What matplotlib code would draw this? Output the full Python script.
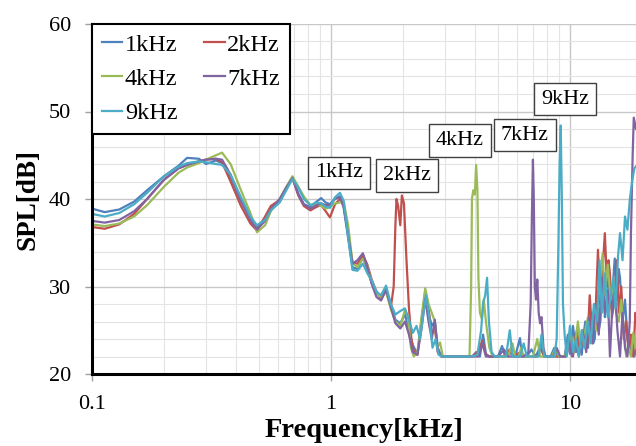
import matplotlib
matplotlib.use("Agg")
import matplotlib.pyplot as plt
import numpy as np
from matplotlib.ticker import FixedLocator, NullFormatter, MultipleLocator

plt.rcParams['font.family'] = ['Liberation Serif', 'DejaVu Serif']

# shared low-frequency grid [kHz]
freq_low = [0.100, 0.113, 0.130, 0.150, 0.170, 0.200, 0.230, 0.250, 0.280, 0.300,
            0.330, 0.350, 0.380, 0.420, 0.460, 0.490, 0.530, 0.560, 0.610, 0.650,
            0.690, 0.730, 0.770, 0.820, 0.870, 0.910, 0.950, 0.990, 1.040, 1.090,
            1.130, 1.180, 1.230, 1.290, 1.360, 1.420, 1.480, 1.550, 1.620, 1.700,
            1.780]

spl_low_1k = [38.9, 38.5, 38.8, 39.7, 41.0, 42.6, 43.8, 44.7, 44.6, 44.0,
              44.4, 44.1, 42.5, 39.8, 37.7, 36.8, 37.8, 39.0, 39.8, 41.2,
              42.5, 40.6, 39.4, 39.1, 39.7, 40.1, 39.6, 39.4, 40.1, 40.3,
              39.0, 35.5, 32.2, 32.0, 33.3, 32.0, 30.4, 29.4, 28.8, 29.8,
              28.0]
spl_low_2k = [36.8, 36.6, 37.1, 38.3, 40.0, 42.2, 43.5, 43.9, 44.3, 44.5,
              44.6, 44.2, 42.0, 39.2, 37.2, 36.4, 38.0, 39.2, 39.9, 41.3,
              42.4, 40.4, 39.2, 38.7, 39.1, 39.3, 38.6, 37.9, 39.4, 40.0,
              39.3, 36.0, 32.8, 32.6, 33.6, 32.5, 30.8, 29.4, 28.6, 29.6,
              27.6]
spl_low_4k = [37.1, 36.9, 37.2, 38.0, 39.3, 41.4, 43.0, 43.6, 44.1, 44.5,
              45.0, 45.3, 44.0, 41.0, 38.4, 36.2, 37.0, 38.6, 40.0, 41.4,
              42.6, 41.4, 40.3, 39.3, 39.4, 39.2, 38.9, 39.1, 39.5, 39.6,
              39.7, 37.0, 32.7, 32.2, 33.2, 32.3, 30.6, 29.2, 28.8, 29.4,
              27.4]
spl_low_7k = [37.5, 37.3, 37.6, 38.6, 40.0, 42.2, 43.5, 43.9, 44.3, 44.5,
              44.6, 44.5, 42.8, 39.8, 37.6, 36.5, 37.5, 38.8, 40.0, 41.3,
              42.4, 40.5, 39.4, 38.9, 39.3, 39.5, 39.3, 39.3, 40.0, 40.2,
              39.2, 35.9, 32.6, 33.0, 33.8, 32.2, 30.3, 28.8, 28.4, 29.6,
              27.7]
spl_low_9k = [38.3, 38.0, 38.4, 39.4, 40.7, 42.6, 43.7, 44.1, 44.3, 44.2,
              44.0, 43.9, 42.8, 40.2, 38.0, 37.0, 37.6, 38.7, 39.6, 41.0,
              42.3, 41.3, 40.0, 39.3, 39.6, 39.5, 39.1, 39.0, 40.2, 40.7,
              39.8, 35.7, 31.9, 31.8, 32.6, 31.5, 30.7, 29.4, 29.0, 30.1,
              28.0]

# high-frequency tails, read per series
f_tail_1k = [1.86, 1.95, 2.04, 2.12, 2.20, 2.30, 2.40, 2.48, 2.56, 2.64, 2.72, 2.80, 2.90,
             3.0, 3.9, 4.05, 4.2, 4.33, 4.45, 4.6, 5.0, 5.2, 5.35, 5.6, 5.9, 6.18, 6.3,
             6.6, 6.9, 7.2, 7.6, 7.8, 8.3, 8.6, 8.9, 9.5, 9.8, 10.0, 10.15, 10.3, 10.6, 10.9,
             11.2, 11.4, 11.6, 11.9, 12.1, 12.3, 12.5, 12.7, 13.0, 13.2, 13.4, 13.8, 14.0,
             14.2, 14.6, 15.0, 15.2, 15.4, 15.8, 16.0, 16.2, 16.6, 17.0, 17.4, 17.8, 18.2,
             18.6, 19.0]
v_tail_1k = [26.2, 25.8, 26.8, 25.0, 23.3, 22.3, 26.5, 29.4, 27.0, 25.5, 26.0, 23.0, 22.0,
             22.0, 22.0, 22.5, 22.0, 24.5, 22.3, 22.0, 22.0, 23.2, 22.0, 22.4, 22.0, 24.1, 22.0,
             22.0, 22.8, 22.0, 23.5, 22.0, 22.0, 23.0, 22.0, 22.0, 24.5, 22.3, 24.0, 25.5, 22.5, 24.0,
             22.2, 24.5, 26.0, 23.0, 25.5, 27.0, 23.5, 24.0, 29.5, 25.0, 26.0, 31.5, 26.5,
             28.0, 30.5, 27.0, 31.0, 33.2, 29.0, 32.0, 31.0, 26.0, 28.5, 24.0, 22.5, 23.5,
             22.0, 23.0]

f_tail_2k = [1.83, 1.86, 1.88, 1.91, 1.95, 1.98, 2.02, 2.07, 2.12, 2.17, 2.22, 2.30, 2.40,
             2.48, 2.56, 2.64, 2.72, 2.80, 2.90, 3.9, 4.1, 4.3, 4.45, 4.6, 5.3, 5.6, 5.8,
             6.2, 6.5, 7.3, 7.5, 7.8, 9.6, 10.0, 10.3, 10.5, 10.7, 11.0, 11.2, 11.4, 11.8,
             12.1, 12.4, 12.6, 12.8, 13.1, 13.4, 13.7, 14.0, 14.3, 14.5, 14.7, 15.0, 15.4,
             15.7, 16.0, 16.4, 16.8, 17.2, 17.6, 18.0, 18.4, 18.8, 19.0]
v_tail_2k = [30.0, 37.0, 40.0, 39.2, 37.0, 40.4, 39.5, 33.0, 27.5, 24.0, 22.6, 22.2, 26.0,
             29.3, 27.5, 24.5, 25.2, 22.5, 22.0, 22.0, 22.5, 23.8, 22.2, 22.0, 22.0, 22.8, 22.0,
             22.5, 22.0, 22.0, 23.0, 22.0, 22.0, 23.5, 22.0, 24.0, 25.0, 22.5, 23.5, 24.5, 23.0,
             29.0, 24.5, 26.0, 27.0, 34.2, 28.0, 32.0, 36.1, 30.0, 33.0, 31.5, 26.5, 29.0,
             33.0, 27.0, 30.0, 24.0, 26.0, 22.5, 24.5, 22.0, 27.0, 26.0]

f_tail_4k = [1.86, 1.95, 2.04, 2.10, 2.16, 2.22, 2.30, 2.40, 2.48, 2.56, 2.64, 2.72, 2.78,
             2.86, 2.94, 3.8, 3.86, 3.89, 3.94, 4.00, 4.05, 4.10, 4.14, 4.20, 4.28, 4.36,
             4.45, 4.6, 4.75, 5.5, 5.75, 5.9, 6.1, 6.25, 6.4, 7.0, 7.3, 7.5, 8.4, 8.7, 9.0,
             9.5, 9.8, 10.1, 10.4, 10.8, 11.1, 11.3, 11.5, 11.9, 12.2, 12.6, 12.9, 13.1, 13.3,
             13.7, 14.0, 14.4, 14.8, 15.2, 15.6, 16.0, 16.4, 16.8, 17.2, 17.6, 18.0, 18.4,
             18.8, 19.0]
v_tail_4k = [26.0, 25.5, 27.3, 26.5, 23.0, 22.0, 22.5, 26.8, 29.8, 28.0, 27.0, 26.0, 23.0,
             23.6, 22.0, 22.0, 30.0, 40.0, 41.0, 40.5, 43.9, 41.0, 31.0, 27.0, 26.3, 28.5,
             26.0, 23.0, 22.0, 22.0, 23.5, 22.0, 22.0, 23.0, 22.0, 22.0, 24.0, 22.0, 22.0, 23.0, 22.0,
             22.0, 23.0, 24.5, 22.5, 26.0, 23.0, 25.0, 24.5, 26.5, 24.0, 27.0, 25.0, 28.0, 30.0,
             33.8, 29.0, 32.5, 28.5, 30.5, 27.0, 26.0, 28.5, 25.0, 22.0, 23.0, 22.0, 24.7,
             23.0, 24.5]

f_tail_7k = [1.86, 1.95, 2.04, 2.12, 2.20, 2.30, 2.40, 2.48, 2.56, 2.64, 2.72, 2.80, 2.90,
             3.9, 4.15, 4.3, 4.45, 5.0, 5.3, 5.5, 6.4, 6.7, 6.85, 6.93, 7.0, 7.06, 7.13,
             7.21, 7.3, 7.4, 7.5, 7.6, 7.75, 7.9, 8.5, 8.8, 9.1, 9.6, 9.9, 10.2, 10.6, 10.9,
             11.3, 11.7, 12.0, 12.4, 12.8, 13.2, 13.6, 14.0, 14.4, 14.7, 15.0, 15.4, 15.8,
             16.2, 16.6, 17.0, 17.4, 17.8, 18.0, 18.3, 18.5, 18.9]
v_tail_7k = [25.8, 25.2, 26.0, 24.5, 22.5, 22.2, 25.5, 28.6, 26.0, 24.0, 26.2, 22.5, 22.0,
             22.0, 22.0, 23.5, 22.0, 22.0, 22.8, 22.0, 22.0, 22.5, 28.0, 38.0, 44.5, 40.0, 30.0,
             28.5, 30.8, 27.0, 25.8, 26.5, 23.0, 22.0, 22.0, 23.0, 22.0, 22.0, 24.0, 22.0, 23.5, 22.0,
             25.0, 22.5, 26.5, 23.5, 28.0, 24.5, 31.0, 27.0, 29.5, 22.0, 27.0, 30.0, 25.0,
             22.0, 27.0, 23.0, 22.0, 26.0, 36.0, 45.0, 49.3, 48.0]

f_tail_9k = [1.86, 1.95, 2.04, 2.12, 2.20, 2.28, 2.36, 2.44, 2.50, 2.58, 2.66, 2.74, 2.82,
             2.92, 3.9, 4.1, 4.25, 4.33, 4.42, 4.50, 4.58, 4.7, 4.85, 5.4, 5.6, 5.75, 6.2,
             6.4, 6.6, 7.4, 7.6, 7.8, 8.6, 8.8, 8.95, 9.05, 9.15, 9.25, 9.35, 9.5, 9.7, 10.0,
             10.3, 10.6, 10.9, 11.2, 11.5, 11.7, 11.9, 12.2, 12.6, 13.0, 13.3, 13.6, 14.0,
             14.4, 14.8, 15.2, 15.5, 15.9, 16.2, 16.6, 17.0, 17.4, 17.8, 18.2, 18.6, 19.0]
v_tail_9k = [26.8, 27.2, 27.5, 26.2, 24.7, 25.5, 24.0, 27.0, 29.0, 26.5, 23.0, 24.0, 22.2,
             22.0, 22.0, 22.2, 25.0, 28.1, 29.0, 31.0, 26.0, 22.5, 22.0, 22.0, 25.0, 22.0, 22.0,
             23.5, 22.0, 22.0, 24.5, 22.0, 22.0, 24.0, 35.0, 44.0, 48.4, 40.0, 28.0, 24.5, 22.0, 25.5,
             22.5, 24.0, 22.0, 25.0, 23.0, 24.5, 26.0, 23.5, 28.0, 26.0, 33.0, 27.0, 31.5,
             26.5, 29.0, 31.0, 27.5, 33.5, 36.1, 33.0, 38.0, 36.5, 39.9, 42.0, 43.5, 43.8]

labels = ['1kHz', '2kHz', '4kHz', '7kHz', '9kHz']
colors = ['#4F81BD', '#C0504D', '#9BBB59', '#8064A2', '#4BACC6']

series = [
    (freq_low + f_tail_1k, spl_low_1k + v_tail_1k),
    (freq_low + f_tail_2k, spl_low_2k + v_tail_2k),
    (freq_low + f_tail_4k, spl_low_4k + v_tail_4k),
    (freq_low + f_tail_7k, spl_low_7k + v_tail_7k),
    (freq_low + f_tail_9k, spl_low_9k + v_tail_9k),
]

# annotation labels and their positions
ann_text = ['1kHz', '2kHz', '4kHz', '7kHz', '9kHz']
ann_x = [1.08, 2.08, 3.47, 6.48, 9.55]
ann_y = [43.0, 42.7, 46.7, 47.3, 51.4]

fig = plt.figure(figsize=(6.36, 4.46), dpi=100)
ax = fig.add_axes([0.1447, 0.1614, 0.8553, 0.7848])

lines = []
for (f, v), lab, c in zip(series, labels, colors):
    ln, = ax.plot(f, v, color=c, lw=1.6, label=lab)
    lines.append(ln)

ax.set_xscale('log')
ax.set_xlim(0.1, 18.9)
ax.set_ylim(20, 60)
ax.yaxis.set_major_locator(MultipleLocator(10))
ax.yaxis.set_minor_locator(MultipleLocator(2))
ax.xaxis.set_major_locator(FixedLocator([0.1, 1, 10]))
ax.xaxis.set_minor_locator(FixedLocator([m * d for d in [0.1, 1, 10] for m in range(2, 10)]))
ax.xaxis.set_minor_formatter(NullFormatter())
ax.set_xticklabels(['0.1', '1', '10'])

ax.grid(which='major', color='#c8c8c8', lw=1.0)
ax.grid(which='minor', color='#e4e4e4', lw=0.8)
ax.set_axisbelow(True)

ax.tick_params(which='major', length=5, width=1, color='#a0a0a0', labelsize=16, pad=10)
ax.tick_params(which='minor', length=0)

for s in ['top', 'right']:
    ax.spines[s].set_visible(False)
for s in ['left', 'bottom']:
    ax.spines[s].set_linewidth(2.2)
    ax.spines[s].set_color('black')

ax.set_xlabel('Frequency[kHz]', fontsize=20.5, fontweight='bold', labelpad=3)
ax.set_ylabel('SPL[dB]', fontsize=19.5, fontweight='bold', labelpad=6)

order = [0, 2, 4, 1, 3]
leg = ax.legend([lines[i] for i in order], [labels[i] for i in order], ncol=2,
                loc='upper left', bbox_to_anchor=(0, 1), borderaxespad=0,
                fontsize=17.5, fancybox=False, framealpha=1, edgecolor='black',
                handlelength=0.85, handletextpad=0.1, columnspacing=1.1,
                labelspacing=0.5, borderpad=0.4)
leg.get_frame().set_linewidth(1.5)

for t, x, y in zip(ann_text, ann_x, ann_y):
    ax.text(x, y, t, fontsize=16, ha='center', va='center',
            bbox=dict(boxstyle='square,pad=0.3', fc='white', ec='#404040', lw=1))

plt.savefig('out.png', dpi=100)
plt.close()
